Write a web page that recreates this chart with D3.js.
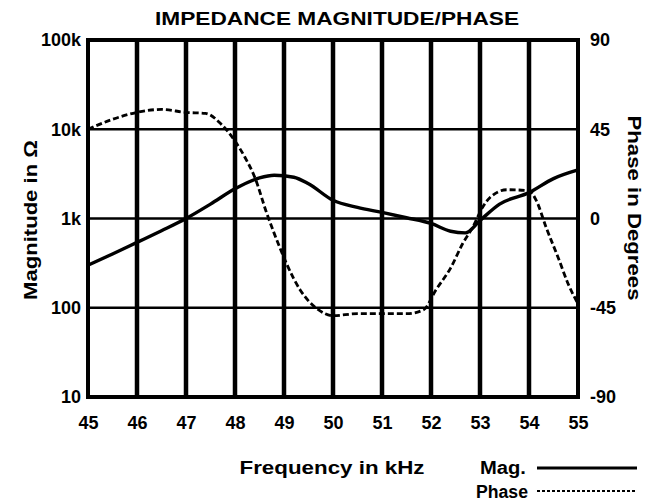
<!DOCTYPE html>
<html><head><meta charset="utf-8">
<script src="https://cdn.jsdelivr.net/npm/d3@7/dist/d3.min.js"></script>
<style>
body{margin:0;background:#fff;}
text{font-family:"Liberation Sans",Arial,sans-serif;fill:#000;}
</style></head>
<body><svg id="c" width="667" height="504"></svg>
<script>
const freqTicks = [45,46,47,48,49,50,51,52,53,54,55];
const freqLabels = ["45","46","47","48","49","50","51","52","53","54","55"];
const magTicks = [10,100,1000,10000,100000];
const magLabels = ["10","100","1k","10k","100k"];
const phaseTicks = [-90,-45,0,45,90];
const phaseLabels = ["-90","-45","0","45","90"];

const magFreq = [45,45.5,46,46.5,47,47.5,48,48.5,48.8,49.2,49.5,50,50.5,51,51.5,52,52.4,52.7,53,53.4,54,54.5,55];
const magVal  = [300,400,540,730,1000,1450,2150,2850,3050,2900,2450,1600,1330,1170,1020,880,720,690,950,1450,1950,2800,3500];

const phFreq = [45,45.5,46,46.5,47,47.4,47.7,48,48.2,48.4,48.65,48.8,49.33,49.7,50,50.5,51,51.5,51.85,52.1,52.4,52.65,52.85,53.05,53.2,53.55,54,54.15,54.35,54.6,54.8,55];
const phVal  = [45,50,53.5,55,53.5,53,48,39,31,21,2.5,-7.5,-36,-46,-49,-48,-48,-48,-46,-36,-25,-12.5,-4.5,5.5,10.5,14.5,14,9,-4.5,-20,-33,-43];

const svg = d3.select("#c");
const L=88,R=578,T=40,B=397;
const x = d3.scaleLinear().domain([45,55]).range([L,R]);
const yM = d3.scaleLog().domain([10,100000]).range([B,T]);
const yP = d3.scaleLinear().domain([-90,90]).range([B,T]);

svg.selectAll(".hg").data([100,1000,10000]).enter().append("line")
  .attr("x1",L).attr("x2",R).attr("y1",d=>yM(d)).attr("y2",d=>yM(d))
  .attr("stroke","#000").attr("stroke-width",2.5);
svg.selectAll(".vg").data(freqTicks.slice(1,-1)).enter().append("line")
  .attr("x1",d=>x(d)).attr("x2",d=>x(d)).attr("y1",T).attr("y2",B)
  .attr("stroke","#000").attr("stroke-width",4.5);
svg.append("rect").attr("x",L).attr("y",T).attr("width",R-L).attr("height",B-T)
  .attr("fill","none").attr("stroke","#000").attr("stroke-width",4);

const ax = svg.append("g").attr("transform",`translate(0,${B})`)
  .call(d3.axisBottom(x).tickValues(freqTicks).tickFormat((d,i)=>freqLabels[i]).tickSize(0).tickPadding(19));
const al = svg.append("g").attr("transform",`translate(${L},0)`)
  .call(d3.axisLeft(yM).tickValues(magTicks).tickFormat((d,i)=>magLabels[i]).tickSize(0).tickPadding(7));
const ar = svg.append("g").attr("transform",`translate(${R},0)`)
  .call(d3.axisRight(yP).tickValues(phaseTicks).tickFormat((d,i)=>phaseLabels[i]).tickSize(0).tickPadding(12));
[ax,al,ar].forEach(g=>{
  g.select(".domain").remove();
  g.selectAll("text").style("font-family","'Liberation Sans',Arial,sans-serif")
   .style("font-size","18px").style("font-weight","bold").attr("fill","#000");
});

const magLine = d3.line().x(d=>x(d[0])).y(d=>yM(d[1])).curve(d3.curveMonotoneX);
svg.append("path").datum(magFreq.map((f,i)=>[f,magVal[i]])).attr("d",magLine)
  .attr("fill","none").attr("stroke","#000").attr("stroke-width",3.4);
const phLine = d3.line().x(d=>x(d[0])).y(d=>yP(d[1])).curve(d3.curveMonotoneX);
svg.append("path").datum(phFreq.map((f,i)=>[f,phVal[i]])).attr("d",phLine)
  .attr("fill","none").attr("stroke","#000").attr("stroke-width",2.8).attr("stroke-dasharray","6,3");

const bt = t=>t.style("font-weight","bold");
bt(svg.append("text").attr("x",337).attr("y",25).attr("text-anchor","middle")
  .attr("textLength",364).attr("lengthAdjust","spacingAndGlyphs")
  .style("font-size","19px").text("IMPEDANCE MAGNITUDE/PHASE"));
bt(svg.append("text").attr("transform","translate(37,220) rotate(-90)").attr("text-anchor","middle")
  .attr("textLength",160).attr("lengthAdjust","spacingAndGlyphs")
  .style("font-size","18px").text("Magnitude in Ω"));
bt(svg.append("text").attr("transform","translate(628,208) rotate(90)").attr("text-anchor","middle")
  .attr("textLength",185).attr("lengthAdjust","spacingAndGlyphs")
  .style("font-size","18px").text("Phase in Degrees"));
bt(svg.append("text").attr("x",332).attr("y",474).attr("text-anchor","middle")
  .attr("textLength",185).attr("lengthAdjust","spacingAndGlyphs")
  .style("font-size","18px").text("Frequency in kHz"));

bt(svg.append("text").attr("x",480).attr("y",474).attr("textLength",46).attr("lengthAdjust","spacingAndGlyphs")
  .style("font-size","18px").text("Mag."));
bt(svg.append("text").attr("x",476).attr("y",498).attr("textLength",52).attr("lengthAdjust","spacingAndGlyphs")
  .style("font-size","18px").text("Phase"));
svg.append("line").attr("x1",537).attr("x2",637).attr("y1",468).attr("y2",468)
  .attr("stroke","#000").attr("stroke-width",3);
svg.append("line").attr("x1",537).attr("x2",637).attr("y1",491).attr("y2",491)
  .attr("stroke","#000").attr("stroke-width",2).attr("stroke-dasharray","3,2");
</script></body></html>
